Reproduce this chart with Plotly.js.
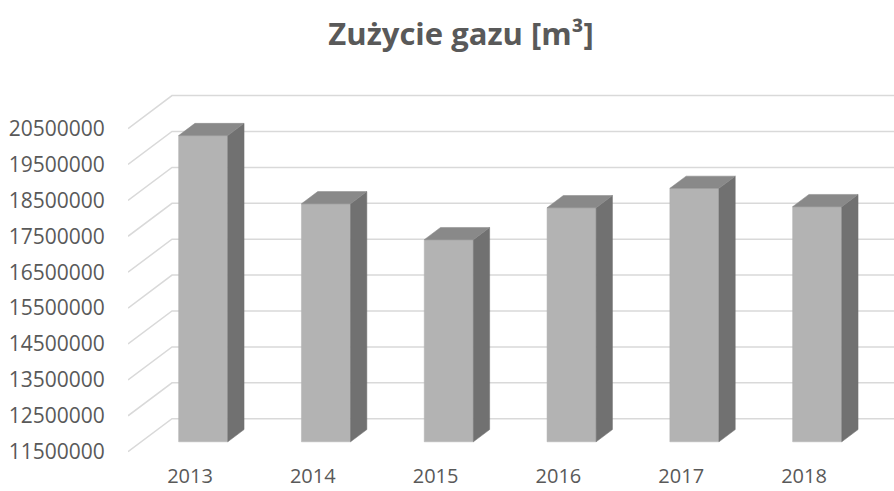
<!DOCTYPE html>
<html>
<head>
<meta charset="utf-8">
<script src="https://cdn.plot.ly/plotly-3.0.1.min.js"></script>
<style>html,body{margin:0;padding:0;background:#fff;}#chart{width:894px;height:491px;}</style>
</head>
<body>
<div id="chart"></div>
<script>
// ---- data ----
const categories = ['2013', '2014', '2015', '2016', '2017', '2018'];
const gasUsage = [20030000, 18130000, 17130000, 18020000, 18560000, 18050000];
const yTickValues = [11500000, 12500000, 13500000, 14500000, 15500000, 16500000, 17500000, 18500000, 19500000, 20500000];
const titleText = 'Zużycie gazu [m³]';

// ---- pseudo-3D geometry (in axis units) ----
const W = 894, H = 491;
const plotL = 128, plotR = 894, plotT = 90, plotB = 462;
const catPx0 = 190, catStep = 122.8;          // front-plane category centres
const valPx0 = 451.7, pxPerUnit = 35.9 / 1e6; // front plane: 11.5M at y=451.7
const base = yTickValues[0];
const DX = 44 / catStep;       // full depth shift in x (category units)
const DY = 33 / pxPerUnit;     // full depth shift in y (value units)
const d0 = 0.30, d1 = 0.67;    // bar depth start / end
const halfW = 0.2;

const xRange = [(plotL - catPx0) / catStep, (plotR - catPx0) / catStep];
const yRange = [base + (valPx0 - plotB) / pxPerUnit, base + (valPx0 - plotT) / pxPerUnit];

const traces = [];

// gridlines: front-left edge -> back wall -> right
const gx = [], gy = [];
yTickValues.forEach(v => {
  gx.push(xRange[0], xRange[0] + DX, 6.5, null);
  gy.push(v, v + DY, v + DY, null);
});
traces.push({type: 'scatter', mode: 'lines', x: gx, y: gy,
  line: {color: '#d9d9d9', width: 1.5}, hoverinfo: 'skip', showlegend: false});

function poly(xs, ys, color) {
  traces.push({type: 'scatter', mode: 'lines', x: xs.concat([xs[0]]), y: ys.concat([ys[0]]),
    fill: 'toself', fillcolor: color, line: {color: color, width: 0.5},
    hoverinfo: 'skip', showlegend: false});
}

const sdx = (d1 - d0) * DX, sdy = (d1 - d0) * DY;
gasUsage.forEach((v, i) => {
  const c = i + d0 * DX;
  const x0 = c - halfW, x1 = c + halfW;
  const b = base + d0 * DY, t = v + d0 * DY;
  // front
  poly([x0, x1, x1, x0], [b, b, t, t], '#b3b3b3');
  // side
  poly([x1, x1 + sdx, x1 + sdx, x1], [b, b + sdy, t + sdy, t], '#717171');
  // top
  poly([x0, x1, x1 + sdx, x0 + sdx], [t, t, t + sdy, t + sdy], '#898989');
});

const layout = {
  width: W, height: H,
  margin: {l: plotL, r: W - plotR, t: plotT, b: H - plotB, pad: 0},
  paper_bgcolor: '#ffffff', plot_bgcolor: 'rgba(0,0,0,0)',
  font: {family: 'Open Sans, sans-serif', color: '#595959'},
  title: {text: '<b>' + titleText + '</b>', font: {family: 'Open Sans, sans-serif', size: 31, color: '#595959'},
    x: 461 / W, xanchor: 'center', xref: 'container', y: 1 - 34 / H, yanchor: 'middle', yref: 'container'},
  xaxis: {range: xRange, tickvals: categories.map((_, i) => i), ticktext: categories,
    showgrid: false, zeroline: false, showline: false, ticks: '', 
    tickfont: {size: 20, color: '#595959'}, fixedrange: true},
  yaxis: {range: yRange, tickvals: yTickValues, ticktext: yTickValues.map(v => String(v)),
    showgrid: false, zeroline: false, showline: false, ticks: 'outside', ticklen: 18, tickcolor: 'rgba(0,0,0,0)',
    tickfont: {size: 21, color: '#595959'}, fixedrange: true},
  showlegend: false
};

Plotly.newPlot('chart', traces, layout, {displayModeBar: false, staticPlot: true});
</script>
</body>
</html>
